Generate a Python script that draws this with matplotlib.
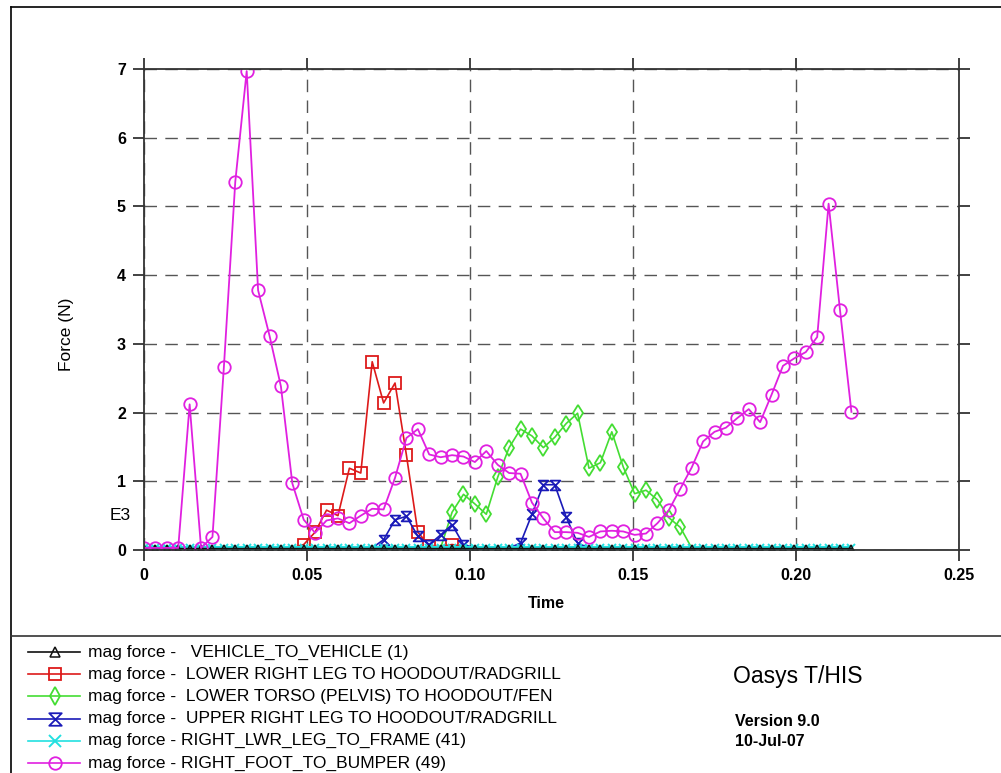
import matplotlib
matplotlib.use("Agg")
import matplotlib.pyplot as plt
from matplotlib.lines import Line2D
from matplotlib.path import Path

plt.rcParams['font.family'] = 'Liberation Sans'

# time of each sample (s)
time = [0.0, 0.0035, 0.007, 0.0105, 0.014, 0.0175, 0.021, 0.0245, 0.028, 0.0315,
        0.035, 0.0385, 0.042, 0.0455, 0.049, 0.0525, 0.056, 0.0595, 0.063, 0.0665,
        0.07, 0.0735, 0.077, 0.0805, 0.084, 0.0875, 0.091, 0.0945, 0.098, 0.1015,
        0.105, 0.1085, 0.112, 0.1155, 0.119, 0.1225, 0.126, 0.1295, 0.133, 0.1365,
        0.14, 0.1435, 0.147, 0.1505, 0.154, 0.1575, 0.161, 0.1645, 0.168, 0.1715,
        0.175, 0.1785, 0.182, 0.1855, 0.189, 0.1925, 0.196, 0.1995, 0.203, 0.2065,
        0.21, 0.2135, 0.217]

# forces (E3 N)
vehicle = [0.03, 0.03, 0.03, 0.03, 0.03, 0.03, 0.03, 0.03, 0.03, 0.03,
           0.03, 0.03, 0.03, 0.03, 0.03, 0.03, 0.03, 0.03, 0.03, 0.03,
           0.03, 0.03, 0.03, 0.03, 0.03, 0.03, 0.03, 0.03, 0.03, 0.03,
           0.03, 0.03, 0.03, 0.03, 0.03, 0.03, 0.03, 0.03, 0.03, 0.03,
           0.03, 0.03, 0.03, 0.03, 0.03, 0.03, 0.03, 0.03, 0.03, 0.03,
           0.03, 0.03, 0.03, 0.03, 0.03, 0.03, 0.03, 0.03, 0.03, 0.03,
           0.03, 0.03, 0.03]
lower_leg = [0.03, 0.03, 0.03, 0.03, 0.03, 0.03, 0.03, 0.03, 0.03, 0.03,
             0.03, 0.03, 0.03, 0.03, 0.08, 0.26, 0.58, 0.50, 1.19, 1.12,
             2.74, 2.14, 2.43, 1.38, 0.26, 0.06, 0.05, 0.08, 0.05, 0.03,
             0.03, 0.03, 0.03, 0.03, 0.03, 0.03, 0.03, 0.03, 0.03, 0.03,
             0.03, 0.03, 0.03, 0.03, 0.03, 0.03, 0.03, 0.03, 0.03, 0.03,
             0.03, 0.03, 0.03, 0.03, 0.03, 0.03, 0.03, 0.03, 0.03, 0.03,
             0.03, 0.03, 0.03]
torso = [0.03, 0.03, 0.03, 0.03, 0.03, 0.03, 0.03, 0.03, 0.03, 0.03,
         0.03, 0.03, 0.03, 0.03, 0.03, 0.03, 0.03, 0.03, 0.03, 0.03,
         0.03, 0.03, 0.03, 0.03, 0.03, 0.03, 0.03, 0.55, 0.81, 0.67,
         0.52, 1.06, 1.49, 1.76, 1.66, 1.49, 1.64, 1.84, 1.99, 1.19,
         1.27, 1.72, 1.21, 0.82, 0.87, 0.73, 0.47, 0.33, 0.03, 0.03,
         0.03, 0.03, 0.03, 0.03, 0.03, 0.03, 0.03, 0.03, 0.03, 0.03,
         0.03, 0.03, 0.03]
upper_leg = [0.03, 0.03, 0.03, 0.03, 0.03, 0.03, 0.03, 0.03, 0.03, 0.03,
             0.03, 0.03, 0.03, 0.03, 0.03, 0.03, 0.03, 0.03, 0.03, 0.03,
             0.03, 0.15, 0.44, 0.49, 0.20, 0.08, 0.22, 0.37, 0.08, 0.03,
             0.03, 0.03, 0.03, 0.10, 0.52, 0.95, 0.95, 0.48, 0.10, 0.03,
             0.03, 0.03, 0.03, 0.03, 0.03, 0.03, 0.03, 0.03, 0.03, 0.03,
             0.03, 0.03, 0.03, 0.03, 0.03, 0.03, 0.03, 0.03, 0.03, 0.03,
             0.03, 0.03, 0.03]
lwr_leg_frame = [0.03, 0.03, 0.03, 0.03, 0.03, 0.03, 0.03, 0.03, 0.03, 0.03,
                 0.03, 0.03, 0.03, 0.03, 0.03, 0.03, 0.03, 0.03, 0.03, 0.03,
                 0.03, 0.03, 0.03, 0.03, 0.03, 0.03, 0.03, 0.03, 0.03, 0.03,
                 0.03, 0.03, 0.03, 0.03, 0.03, 0.03, 0.03, 0.03, 0.03, 0.03,
                 0.03, 0.03, 0.03, 0.03, 0.03, 0.03, 0.03, 0.03, 0.03, 0.03,
                 0.03, 0.03, 0.03, 0.03, 0.03, 0.03, 0.03, 0.03, 0.03, 0.03,
                 0.03, 0.03, 0.03]
foot_bumper = [0.03, 0.03, 0.03, 0.03, 2.12, 0.03, 0.19, 2.66, 5.36, 6.97,
               3.78, 3.12, 2.38, 0.97, 0.44, 0.25, 0.43, 0.46, 0.39, 0.50,
               0.60, 0.59, 1.05, 1.63, 1.76, 1.39, 1.35, 1.38, 1.36, 1.28,
               1.44, 1.24, 1.12, 1.11, 0.69, 0.46, 0.26, 0.26, 0.25, 0.19,
               0.27, 0.28, 0.27, 0.22, 0.24, 0.39, 0.58, 0.89, 1.20, 1.58,
               1.72, 1.78, 1.92, 2.05, 1.86, 2.26, 2.68, 2.79, 2.88, 3.10,
               5.04, 3.49, 2.01]

labels = ["mag force -   VEHICLE_TO_VEHICLE (1)",
          "mag force -  LOWER RIGHT LEG TO HOODOUT/RADGRILL",
          "mag force -  LOWER TORSO (PELVIS) TO HOODOUT/FEN",
          "mag force -  UPPER RIGHT LEG TO HOODOUT/RADGRILL",
          "mag force - RIGHT_LWR_LEG_TO_FRAME (41)",
          "mag force - RIGHT_FOOT_TO_BUMPER (49)"]

xticks = [0, 0.05, 0.10, 0.15, 0.20, 0.25]
xticklabels = ["0", "0.05", "0.10", "0.15", "0.20", "0.25"]
yticks = [0, 1, 2, 3, 4, 5, 6, 7]

# hourglass marker
hourglass = Path([(-1, 1), (1, 1), (-1, -1), (1, -1), (-1, 1)],
                 [Path.MOVETO, Path.LINETO, Path.LINETO, Path.LINETO, Path.CLOSEPOLY])

fig = plt.figure(figsize=(10.01, 7.73), dpi=100)
ax = fig.add_axes([144 / 1001, 1 - 550 / 773, 815 / 1001, 481 / 773])


def active(vals):
    return [i for i, v in enumerate(vals) if v > 0.055]


styles = [
    dict(color='#dd1a1a', marker='s', ms=8, mfc='none', mew=1.3, lw=1.2),
    dict(color='#44dd33', marker='d', ms=8, mfc='none', mew=1.3, lw=1.2),
    dict(color='#1a1ab8', marker=hourglass, ms=7, mfc='none', mew=1.3, lw=1.2),
    dict(color='#22e0e0', marker='x', ms=6, mew=1.4, lw=3.0),
    dict(color='#111111', marker='^', ms=4.5, mfc='none', mew=1.1, lw=1.0),
    dict(color='#e020e0', marker='o', ms=9, mfc='none', mew=1.3, lw=1.3),
]
series = [lower_leg, torso, upper_leg, lwr_leg_frame, vehicle, foot_bumper]
for vals, st in zip(series, styles):
    every = active(vals) if vals in (lower_leg, torso, upper_leg) else None
    ax.plot(time, vals, markevery=every, **st)

ax.set_xlim(0, 0.25)
ax.set_ylim(0, 7)
ax.set_xticks(xticks)
ax.set_xticklabels(xticklabels)
ax.set_yticks(yticks)
ax.grid(True, color='#555555', lw=1.0, linestyle=(0, (9, 6)))
ax.set_axisbelow(True)
for s in ax.spines.values():
    s.set_color('#333333')
    s.set_linewidth(1.3)
ax.tick_params(direction='out', length=8, width=1.3, color='#333333',
               top=True, right=True, labelsize=11.5, pad=5)
for lab in ax.get_xticklabels() + ax.get_yticklabels():
    lab.set_fontweight('bold')

fig.text(67 / 1001, 1 - 334 / 773, "Force (N)", rotation=90, ha='center',
         va='center', fontsize=12.5)
fig.text(120 / 1001, 1 - 515 / 773, "E3", ha='center', va='center', fontsize=12.5)
fig.text(546 / 1001, 1 - 604 / 773, "Time", ha='center', va='center',
         fontsize=11.5, fontweight='bold')

# frame
fig.add_artist(Line2D([11 / 1001, 1], [1 - 7 / 773, 1 - 7 / 773], color='black',
                      lw=1.2, transform=fig.transFigure))
fig.add_artist(Line2D([11 / 1001, 11 / 1001], [0, 1 - 7 / 773], color='black',
                      lw=1.2, transform=fig.transFigure))
fig.add_artist(Line2D([11 / 1001, 1], [1 - 636 / 773, 1 - 636 / 773], color='#333333',
                      lw=1.2, transform=fig.transFigure))

# legend
legend_styles = [styles[4], styles[0], styles[1], styles[2], styles[3], styles[5]]
for i, (lab, st) in enumerate(zip(labels, legend_styles)):
    y = 1 - (652 + 22.2 * i) / 773
    fig.add_artist(Line2D([28 / 1001, 55 / 1001, 80 / 1001], [y, y, y], markevery=[1],
                          transform=fig.transFigure,
                          **dict(st, lw=1.2, ms=min(st['ms'] + 2, 9))))
    fig.text(88 / 1001, y, lab, va='center', ha='left', fontsize=12.5)

fig.text(733 / 1001, 1 - 677 / 773, "Oasys T/HIS", va='center', ha='left', fontsize=16.5)
fig.text(735 / 1001, 1 - 721 / 773, "Version 9.0", va='center', ha='left', fontsize=11.5,
         fontweight='bold')
fig.text(735 / 1001, 1 - 741 / 773, "10-Jul-07", va='center', ha='left', fontsize=11.5,
         fontweight='bold')

fig.savefig("out.png", dpi=100)
